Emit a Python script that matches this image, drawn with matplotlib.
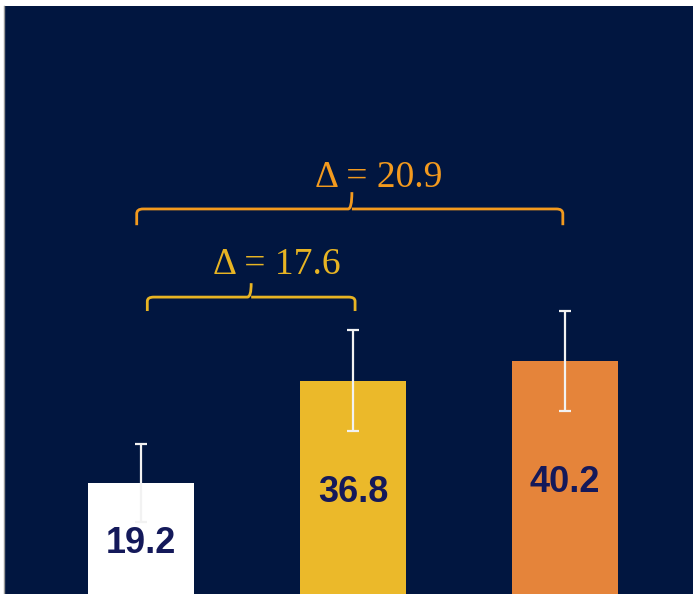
import matplotlib
matplotlib.use("Agg")
import matplotlib.pyplot as plt
from matplotlib.path import Path
from matplotlib.patches import PathPatch

# Data
groups = ["A", "B", "C"]
means = [19.2, 36.8, 40.2]
errors = [6.7, 8.7, 8.6]
bar_colors = ["#FFFFFF", "#EBB92A", "#E5843A"]
deltas = [("Δ = 17.6", 0, 1, "#E8B423"), ("Δ = 20.9", 0, 2, "#F39A1E")]

NAVY = "#011640"
LABEL = "#14195A"

fig = plt.figure(figsize=(6.93, 5.94), dpi=100)
fig.patch.set_facecolor("white")
ax = fig.add_axes([4 / 693, 0, 1 - 4 / 693, 588 / 594])
ax.set_facecolor(NAVY)

x = list(range(len(groups)))
ax.bar(x, means, width=0.5, color=bar_colors, zorder=2)
ax.errorbar(x, means, yerr=errors, fmt="none", ecolor="#F2F2F2",
            elinewidth=1.6, capsize=4.5, capthick=1.6, zorder=3)

for xi, m in zip(x, means):
    ax.text(xi, m / 2 - 0.9, f"{m:.1f}", ha="center", va="center",
            fontsize=26, fontweight="bold", color=LABEL,
            family="Liberation Sans", zorder=4)


def brace(x0, x1, xm, y, h, tip, color):
    r = 0.03
    verts = [
        (x0, y - h), (x0, y - h * 0.3), (x0, y), (x0 + r, y),
        (xm - r * 0.6, y), (xm, y), (xm, y + tip),
        (xm, y), (xm + r * 0.6, y),
        (x1 - r, y), (x1, y), (x1, y - h * 0.3), (x1, y - h),
    ]
    codes = [
        Path.MOVETO, Path.LINETO, Path.CURVE3, Path.CURVE3,
        Path.LINETO, Path.CURVE3, Path.CURVE3,
        Path.MOVETO, Path.CURVE3,
        Path.LINETO, Path.CURVE3, Path.CURVE3, Path.LINETO,
    ]
    ax.add_patch(PathPatch(Path(verts, codes), fill=False, edgecolor=color,
                           lw=2, capstyle="butt", zorder=5))


# small brace (bar 0 -> bar 1), big brace (bar 0 -> bar 2)
label, i0, i1, col = deltas[0]
brace(i0 + 0.03, i1 + 0.01, 0.52, 51.2, 2.4, 2.4, col)
ax.text(0.64, 56.8, label, ha="center", va="center", fontsize=27,
        color=col, family="Liberation Serif")

label, i0, i1, col = deltas[1]
brace(i0 - 0.02, i1 - 0.01, 0.995, 66.4, 2.8, 2.9, col)
ax.text(1.12, 71.7, label, ha="center", va="center", fontsize=27,
        color=col, family="Liberation Serif")

ax.set_xlim(-0.646, 2.604)
ax.set_ylim(0, 101.4)
ax.set_xticks([])
ax.set_yticks([])
for s in ["top", "right", "bottom"]:
    ax.spines[s].set_visible(False)
ax.spines["left"].set_color("#9A9A9A")
ax.spines["left"].set_linewidth(1)

fig.savefig("out.png", dpi=100, facecolor=fig.get_facecolor())
